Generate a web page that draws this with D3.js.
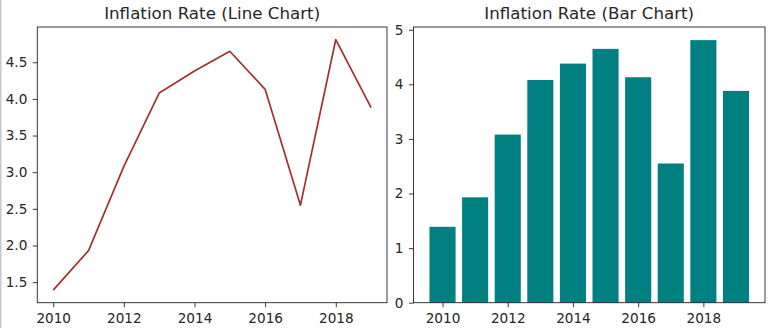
<!DOCTYPE html>
<html>
<head>
<meta charset="utf-8">
<script src="https://cdn.jsdelivr.net/npm/d3@7"></script>
<style>
  html, body { margin: 0; padding: 0; background: #fff; }
  svg { display: block; }
  text { font-family: "DejaVu Sans", sans-serif; fill: #262626; }
</style>
</head>
<body>
<svg id="chart" width="768" height="328"></svg>
<script>
const years = [2010, 2011, 2012, 2013, 2014, 2015, 2016, 2017, 2018, 2019];
const inflation = [1.39, 1.93, 3.08, 4.08, 4.38, 4.65, 4.13, 2.55, 4.81, 3.88];
const lineTicksY = [1.5, 2.0, 2.5, 3.0, 3.5, 4.0, 4.5];
const barTicksY = [0, 1, 2, 3, 4, 5];
const ticksX = [2010, 2012, 2014, 2016, 2018];
const titles = ["Inflation Rate (Line Chart)", "Inflation Rate (Bar Chart)"];

const svg = d3.select("#chart");
// faint left border of the original screenshot
svg.append("line").attr("x1", 0.75).attr("x2", 0.75).attr("y1", 0).attr("y2", 328)
  .attr("stroke", "#c8c8c8").attr("stroke-width", 1.5);

const plotTop = 27, plotBottom = 302.7;
const panels = [{ x0: 37.3, x1: 387 }, { x0: 413.5, x1: 765 }];
const tickFont = "13.6px", titleFont = "16.7px";

function styleAxis(g) {
  g.selectAll(".domain").remove();
  g.selectAll(".tick line").attr("stroke", "#222").attr("stroke-width", 0.9);
  g.selectAll(".tick text").style("font-size", tickFont).attr("fill", "#222");
}

function frame(p, title) {
  svg.append("rect").attr("x", p.x0).attr("y", plotTop)
    .attr("width", p.x1 - p.x0).attr("height", plotBottom - plotTop)
    .attr("fill", "none").attr("stroke", "#222").attr("stroke-width", 0.9);
  svg.append("text").attr("x", (p.x0 + p.x1) / 2).attr("y", 18.5)
    .attr("text-anchor", "middle").style("font-size", titleFont).attr("fill", "#1a1a1a").text(title);
}

// ---- Line chart ----
{
  const p = panels[0];
  const [xmin, xmax] = d3.extent(years);
  const xm = (xmax - xmin) * 0.05;
  const x = d3.scaleLinear().domain([xmin - xm, xmax + xm]).range([p.x0, p.x1]);
  const [ymin, ymax] = d3.extent(inflation);
  const ym = (ymax - ymin) * 0.05;
  const y = d3.scaleLinear().domain([ymin - ym, ymax + ym]).range([plotBottom, plotTop]);

  const line = d3.line().x((d, i) => x(years[i])).y(d => y(d));
  svg.append("path").datum(inflation).attr("d", line)
    .attr("fill", "none").attr("stroke", "#a3302f").attr("stroke-width", 1.7)
    .attr("stroke-linejoin", "round");

  svg.append("g").attr("transform", `translate(0,${plotBottom})`)
    .call(d3.axisBottom(x).tickValues(ticksX).tickFormat(d3.format("d")).tickSize(4.5).tickPadding(6.5))
    .call(styleAxis);
  svg.append("g").attr("transform", `translate(${p.x0},0)`)
    .call(d3.axisLeft(y).tickValues(lineTicksY).tickFormat(d3.format(".1f")).tickSize(4.5).tickPadding(5.5))
    .call(styleAxis);
  frame(p, titles[0]);
}

// ---- Bar chart ----
{
  const p = panels[1];
  const bw = 0.8;
  const lo = d3.min(years) - bw / 2, hi = d3.max(years) + bw / 2;
  const xm = (hi - lo) * 0.05;
  const x = d3.scaleLinear().domain([lo - xm, hi + xm]).range([p.x0, p.x1]);
  const y = d3.scaleLinear().domain([0, d3.max(inflation) * 1.05]).range([plotBottom, plotTop]);

  svg.append("g").selectAll("rect").data(inflation).join("rect")
    .attr("x", (d, i) => x(years[i] - bw / 2))
    .attr("width", (d, i) => x(years[i] + bw / 2) - x(years[i] - bw / 2))
    .attr("y", d => y(d))
    .attr("height", d => y(0) - y(d))
    .attr("fill", "#008080");

  svg.append("g").attr("transform", `translate(0,${plotBottom})`)
    .call(d3.axisBottom(x).tickValues(ticksX).tickFormat(d3.format("d")).tickSize(4.5).tickPadding(6.5))
    .call(styleAxis);
  svg.append("g").attr("transform", `translate(${p.x0},0)`)
    .call(d3.axisLeft(y).tickValues(barTicksY).tickFormat(d3.format("d")).tickSize(4.5).tickPadding(5.5))
    .call(styleAxis);
  frame(p, titles[1]);
}
</script>
</body>
</html>
